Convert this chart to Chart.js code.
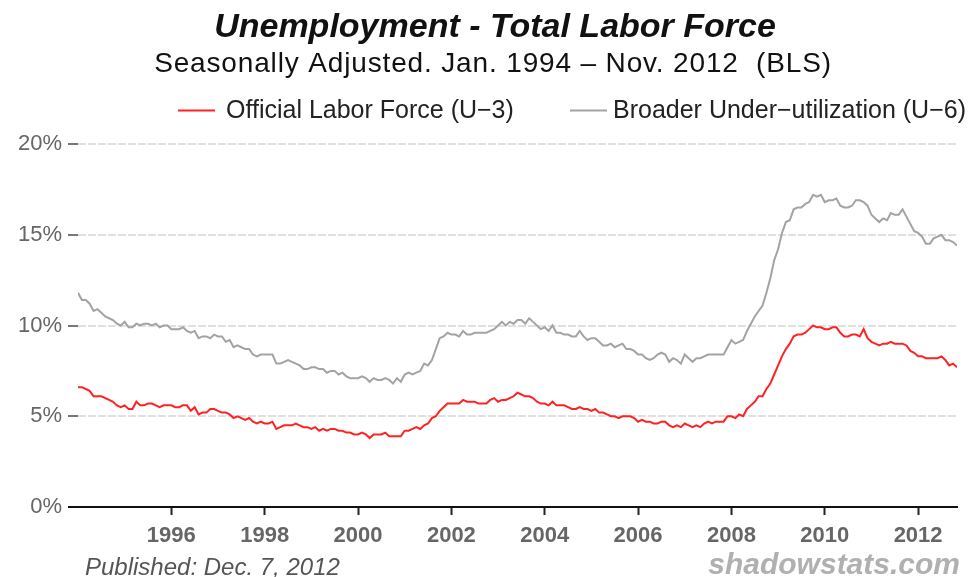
<!DOCTYPE html>
<html>
<head>
<meta charset="utf-8">
<script src="https://cdn.jsdelivr.net/npm/chart.js@4"></script>
<style>
  html, body { margin: 0; padding: 0; background: #fff; }
  #wrap { width: 972px; height: 577px; }
</style>
</head>
<body>
<div id="wrap"><canvas id="c" width="972" height="577"></canvas></div>
<script>
// ---- Data (monthly, seasonally adjusted, Jan 1994 - Nov 2012) ----
const startYear = 1994;
const titleText = "Unemployment - Total Labor Force";
const subtitleText = "Seasonally Adjusted. Jan. 1994 \u2013 Nov. 2012  (BLS)";
const seriesLabels = ["Official Labor Force (U\u22123)", "Broader Under\u2212utilization (U\u22126)"];
const publishedText = "Published: Dec. 7, 2012";
const sourceText = "shadowstats.com";
const xTickYears = [1996, 1998, 2000, 2002, 2004, 2006, 2008, 2010, 2012];
const yTickValues = [0, 5, 10, 15, 20];

const u3 = [
  6.6,6.6,6.5,6.4,6.1,6.1,6.1,6.0,5.9,5.8,5.6,5.5,
  5.6,5.4,5.4,5.8,5.6,5.6,5.7,5.7,5.6,5.5,5.6,5.6,
  5.6,5.5,5.5,5.6,5.6,5.3,5.5,5.1,5.2,5.2,5.4,5.4,
  5.3,5.2,5.2,5.1,4.9,5.0,4.9,4.8,4.9,4.7,4.6,4.7,
  4.6,4.6,4.7,4.3,4.4,4.5,4.5,4.5,4.6,4.5,4.4,4.4,
  4.3,4.4,4.2,4.3,4.2,4.3,4.3,4.2,4.2,4.1,4.1,4.0,
  4.0,4.1,4.0,3.8,4.0,4.0,4.0,4.1,3.9,3.9,3.9,3.9,
  4.2,4.2,4.3,4.4,4.3,4.5,4.6,4.9,5.0,5.3,5.5,5.7,
  5.7,5.7,5.7,5.9,5.8,5.8,5.8,5.7,5.7,5.7,5.9,6.0,
  5.8,5.9,5.9,6.0,6.1,6.3,6.2,6.1,6.1,6.0,5.8,5.7,
  5.7,5.6,5.8,5.6,5.6,5.6,5.5,5.4,5.4,5.5,5.4,5.4,
  5.3,5.4,5.2,5.2,5.1,5.0,5.0,4.9,5.0,5.0,5.0,4.9,
  4.7,4.8,4.7,4.7,4.6,4.6,4.7,4.7,4.5,4.4,4.5,4.4,
  4.6,4.5,4.4,4.5,4.4,4.6,4.7,4.6,4.7,4.7,4.7,5.0,
  5.0,4.9,5.1,5.0,5.4,5.6,5.8,6.1,6.1,6.5,6.8,7.3,
  7.8,8.3,8.7,9.0,9.4,9.5,9.5,9.6,9.8,10.0,9.9,9.9,
  9.8,9.8,9.9,9.9,9.6,9.4,9.4,9.5,9.5,9.4,9.8,9.3,
  9.1,9.0,8.9,9.0,9.0,9.1,9.0,9.0,9.0,8.9,8.6,8.5,
  8.3,8.3,8.2,8.2,8.2,8.2,8.3,8.1,7.8,7.9,7.7
];

const u6 = [
  11.8,11.4,11.4,11.2,10.8,10.9,10.7,10.5,10.4,10.3,10.1,10.0,
  10.2,9.9,9.9,10.1,10.0,10.1,10.1,10.0,10.1,9.9,10.0,10.0,
  9.8,9.8,9.8,9.9,9.7,9.6,9.7,9.3,9.4,9.4,9.3,9.5,
  9.4,9.4,9.1,9.2,8.8,8.9,8.8,8.7,8.7,8.4,8.3,8.4,
  8.4,8.4,8.4,7.9,7.9,8.0,8.1,8.0,7.9,7.8,7.6,7.6,
  7.7,7.7,7.6,7.6,7.4,7.5,7.5,7.3,7.4,7.2,7.1,7.1,
  7.1,7.2,7.1,6.9,7.1,7.0,7.0,7.1,7.0,6.8,7.1,6.9,
  7.3,7.4,7.3,7.4,7.5,7.9,7.8,8.1,8.7,9.3,9.4,9.6,
  9.5,9.5,9.4,9.7,9.5,9.5,9.6,9.6,9.6,9.6,9.7,9.8,
  10.0,10.2,10.0,10.2,10.1,10.3,10.3,10.1,10.4,10.2,10.0,9.8,
  9.9,9.7,10.0,9.6,9.6,9.5,9.5,9.4,9.4,9.7,9.4,9.2,
  9.3,9.3,9.1,8.9,8.9,9.0,8.8,8.9,9.0,8.7,8.7,8.6,
  8.4,8.4,8.2,8.1,8.2,8.4,8.5,8.4,8.0,8.2,8.1,7.9,
  8.4,8.2,8.0,8.2,8.2,8.3,8.4,8.4,8.4,8.4,8.4,8.8,
  9.2,9.0,9.1,9.2,9.7,10.1,10.5,10.8,11.1,11.8,12.6,13.6,
  14.2,15.1,15.7,15.8,16.4,16.5,16.5,16.7,16.8,17.2,17.1,17.2,
  16.8,16.9,16.9,17.0,16.6,16.5,16.5,16.6,16.9,16.9,16.8,16.6,
  16.1,15.9,15.7,15.9,15.8,16.2,16.1,16.1,16.4,16.0,15.6,15.2,
  15.1,14.9,14.5,14.5,14.8,14.9,15.0,14.7,14.7,14.6,14.4
];

// ---- Styling ----
const RED = '#ff2222';
const GRAY = '#a3a3a3';
const FONT = '"Liberation Sans", Arial, Helvetica, sans-serif';

const toPoints = arr => arr.map((v, i) => ({ x: startYear + i / 12, y: v }));
const lastX = startYear + (u3.length - 1) / 12;

const decor = {
  id: 'decor',
  afterDraw(chart) {
    const ctx = chart.ctx;
    ctx.save();
    // Title
    ctx.fillStyle = '#111';
    ctx.textAlign = 'center';
    ctx.textBaseline = 'alphabetic';
    ctx.font = 'italic bold 34px ' + FONT;
    ctx.fillText(titleText, 495, 37);
    // Subtitle
    ctx.font = '28px ' + FONT;
    try { ctx.letterSpacing = '0.85px'; } catch (e) {}
    ctx.fillText(subtitleText, 493, 72);
    try { ctx.letterSpacing = '0px'; } catch (e) {}
    // Legend
    ctx.textAlign = 'left';
    ctx.font = '25px ' + FONT;
    ctx.lineWidth = 2;
    ctx.strokeStyle = RED;
    ctx.beginPath(); ctx.moveTo(178, 110.5); ctx.lineTo(215, 110.5); ctx.stroke();
    ctx.fillStyle = '#222';
    ctx.fillText(seriesLabels[0], 226, 118);
    ctx.strokeStyle = GRAY;
    ctx.beginPath(); ctx.moveTo(570, 110.5); ctx.lineTo(607, 110.5); ctx.stroke();
    ctx.fillText(seriesLabels[1], 613, 118);
    // Footers
    ctx.font = 'italic 24px ' + FONT;
    ctx.fillStyle = '#555';
    ctx.fillText(publishedText, 85, 575);
    ctx.font = 'italic bold 30px ' + FONT;
    ctx.fillStyle = '#b0b0b0';
    ctx.textAlign = 'right';
    ctx.fillText(sourceText, 960, 574);
    ctx.restore();
  }
};

new Chart(document.getElementById('c'), {
  type: 'line',
  data: {
    datasets: [
      { label: seriesLabels[0], data: toPoints(u3), borderColor: RED, borderWidth: 2, pointRadius: 0, tension: 0, fill: false },
      { label: seriesLabels[1], data: toPoints(u6), borderColor: GRAY, borderWidth: 2, pointRadius: 0, tension: 0, fill: false }
    ]
  },
  options: {
    responsive: false,
    devicePixelRatio: 1,
    animation: false,
    layout: { padding: { top: 144, right: 15, bottom: 0, left: 0 } },
    plugins: { legend: { display: false }, title: { display: false }, tooltip: { enabled: false } },
    scales: {
      x: {
        type: 'linear',
        min: startYear,
        max: lastX,
        afterBuildTicks: s => { s.ticks = xTickYears.map(v => ({ value: v })); },
        afterFit: s => { s.height = 70; },
        grid: { display: true, drawOnChartArea: false, drawTicks: true, tickLength: 8, tickColor: '#222', tickWidth: 2 },
        border: { display: true, color: '#111', width: 2 },
        ticks: {
          autoSkip: false, maxRotation: 0, padding: 8,
          color: '#666',
          font: { family: FONT, size: 22, weight: 'bold' },
          callback: v => String(v)
        }
      },
      y: {
        min: 0, max: 20,
        afterBuildTicks: s => { s.ticks = yTickValues.map(v => ({ value: v })); },
        afterFit: s => { s.width = 78; },
        grid: {
          color: '#e0e0e0', lineWidth: 2, tickLength: 10, tickWidth: 2,
          tickColor: c => (c.tick && c.tick.value === 0) ? '#111' : '#777'
        },
        border: { display: false, dash: [8, 2] },
        ticks: {
          padding: 6,
          color: '#666',
          font: { family: FONT, size: 22 },
          callback: v => v + '%'
        }
      }
    }
  },
  plugins: [decor]
});
</script>
</body>
</html>
